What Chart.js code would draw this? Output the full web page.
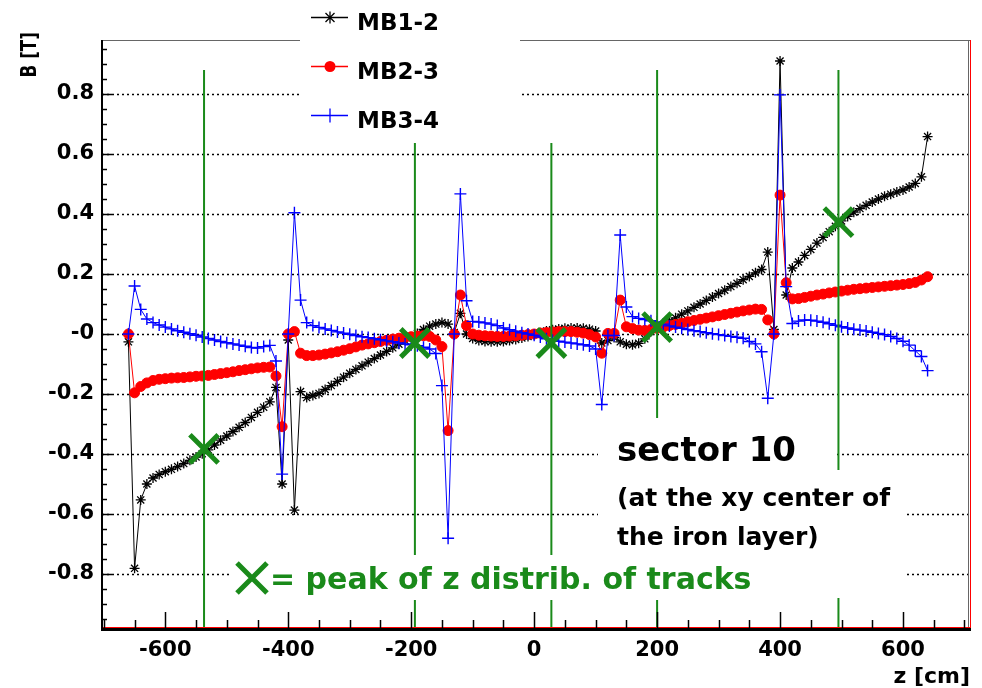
<!DOCTYPE html>
<html>
<head>
<meta charset="utf-8">
<script src="https://cdn.jsdelivr.net/npm/chart.js@4.4.1/dist/chart.umd.min.js"></script>
<style>
html, body { margin: 0; padding: 0; background: #fff; }
#wrap { width: 982px; height: 688px; }
</style>
</head>
<body>
<div id="wrap"><canvas id="myChart" width="982" height="688"></canvas></div>
<script>
// z positions [cm]
let zPos = [-660,-650,-640,-630,-620,-610,-600,-590,-580,-570,-560,-550,-540,-530,-520,-510,-500,-490,-480,-470,
  -460,-450,-440,-430,-420,-410,-400,-390,-380,-370,-360,-350,-340,-330,-320,-310,-300,-290,-280,-270,
  -260,-250,-240,-230,-220,-210,-200,-190,-180,-170,-160,-150,-140,-130,-120,-110,-100,-90,-80,-70,
  -60,-50,-40,-30,-20,-10,0,10,20,30,40,50,60,70,80,90,100,110,120,130,
  140,150,160,170,180,190,200,210,220,230,240,250,260,270,280,290,300,310,320,330,
  340,350,360,370,380,390,400,410,420,430,440,450,460,470,480,490,500,510,520,530,
  540,550,560,570,580,590,600,610,620,630,640];

// B [T]
let mb12 = [-0.026,-0.781,-0.553,-0.500,-0.480,-0.468,-0.459,-0.451,-0.442,-0.432,-0.421,-0.410,-0.399,-0.386,-0.370,-0.354,-0.340,-0.325,-0.311,-0.295,
  -0.278,-0.261,-0.244,-0.226,-0.178,-0.500,-0.020,-0.587,-0.192,-0.212,-0.205,-0.198,-0.185,-0.172,-0.158,-0.144,-0.131,-0.118,-0.106,-0.094,
  -0.082,-0.070,-0.058,-0.046,-0.034,-0.022,-0.010,0.002,0.015,0.026,0.033,0.038,0.033,0.005,0.069,0.000,-0.015,-0.022,-0.025,-0.026,
  -0.026,-0.025,-0.022,-0.018,-0.013,-0.008,-0.002,0.004,0.010,0.014,0.017,0.019,0.020,0.020,0.019,0.016,0.010,-0.030,-0.022,-0.012,
  -0.026,-0.034,-0.036,-0.031,-0.016,0.008,0.020,0.031,0.043,0.054,0.066,0.077,0.089,0.100,0.112,0.123,0.135,0.146,0.158,0.169,
  0.181,0.192,0.204,0.215,0.273,0.015,0.910,0.130,0.220,0.240,0.262,0.282,0.303,0.322,0.341,0.359,0.377,0.392,0.406,0.418,
  0.429,0.440,0.450,0.459,0.466,0.473,0.480,0.490,0.502,0.524,0.658];

let mb23 = [0.000,-0.196,-0.175,-0.163,-0.155,-0.151,-0.149,-0.147,-0.146,-0.145,-0.143,-0.141,-0.140,-0.138,-0.135,-0.132,-0.129,-0.126,-0.122,-0.119,
  -0.116,-0.113,-0.111,-0.110,-0.140,-0.309,0.000,0.008,-0.064,-0.072,-0.072,-0.070,-0.067,-0.063,-0.059,-0.054,-0.049,-0.043,-0.037,-0.033,
  -0.029,-0.025,-0.021,-0.017,-0.014,-0.011,-0.009,-0.007,-0.006,-0.008,-0.020,-0.042,-0.322,0.000,0.130,0.028,0.000,-0.004,-0.006,-0.007,
  -0.008,-0.008,-0.007,-0.006,-0.004,-0.002,0.000,0.003,0.005,0.007,0.008,0.008,0.008,0.006,0.003,-0.002,-0.010,-0.064,0.002,0.002,
  0.113,0.024,0.018,0.013,0.012,0.015,0.019,0.023,0.028,0.032,0.036,0.041,0.045,0.049,0.053,0.057,0.061,0.065,0.069,0.073,
  0.077,0.080,0.083,0.082,0.047,0.000,0.463,0.171,0.117,0.118,0.122,0.126,0.130,0.133,0.137,0.140,0.143,0.146,0.149,0.151,
  0.153,0.155,0.157,0.159,0.161,0.163,0.165,0.168,0.172,0.180,0.191];

let mb34 = [0.000,0.160,0.082,0.050,0.038,0.030,0.023,0.017,0.011,0.006,0.001,-0.004,-0.010,-0.015,-0.020,-0.025,-0.029,-0.033,-0.037,-0.041,
  -0.045,-0.047,-0.042,-0.038,-0.090,-0.467,0.000,0.404,0.113,0.038,0.028,0.022,0.017,0.012,0.007,0.003,-0.001,-0.005,-0.009,-0.012,
  -0.016,-0.019,-0.023,-0.026,-0.030,-0.033,-0.036,-0.039,-0.044,-0.050,-0.065,-0.172,-0.681,0.000,0.467,0.111,0.042,0.040,0.037,0.033,
  0.028,0.020,0.014,0.009,0.004,0.000,-0.004,-0.010,-0.016,-0.021,-0.024,-0.027,-0.030,-0.033,-0.036,-0.040,-0.050,-0.235,-0.005,-0.005,
  0.330,0.090,0.058,0.052,0.048,0.044,0.040,0.033,0.027,0.023,0.019,0.015,0.011,0.008,0.004,0.001,-0.002,-0.005,-0.008,-0.011,
  -0.014,-0.025,-0.033,-0.059,-0.214,0.000,0.797,0.158,0.035,0.043,0.047,0.046,0.043,0.039,0.034,0.029,0.024,0.020,0.016,0.013,
  0.010,0.006,0.002,-0.002,-0.008,-0.015,-0.024,-0.037,-0.056,-0.075,-0.122];

// peaks of z distribution of tracks
let peakZ = [-537, -194, 28, 200, 495];
let peakB = [-0.383, -0.03, -0.03, 0.023, 0.373];
let lineTop = [0.88, 0.637, 0.637, 0.88, 0.88];

let xTicks = [-600, -400, -200, 0, 200, 400, 600];
let yTicks = [-0.8, -0.6, -0.4, -0.2, 0, 0.2, 0.4, 0.6, 0.8];

let green = "#1a8a1a";
let font = "DejaVu Sans";

function pts(ys) {
  return zPos.map((z, i) => ({x: z, y: ys[i]}));
}

let datasets = [];
datasets.push({
  data: peakZ.map((z, i) => ({x: z, y: peakB[i]})),
  showLine: false, pointStyle: 'crossRot', pointRadius: 20,
  pointBorderColor: green, pointBorderWidth: 5, order: 0
});
for (let i = 0; i < peakZ.length; i++) {
  datasets.push({
    data: [{x: peakZ[i], y: lineTop[i]}, {x: peakZ[i], y: -0.98}],
    borderColor: green, borderWidth: 2, pointRadius: 0, order: 1
  });
}
datasets.push({
  label: 'MB3-4', data: pts(mb34), borderColor: '#0000ff', borderWidth: 1,
  pointStyle: 'cross', pointRadius: 6, pointBorderColor: '#0000ff', pointBorderWidth: 1.4, order: 2
});
datasets.push({
  label: 'MB2-3', data: pts(mb23), borderColor: '#ff0000', borderWidth: 1,
  pointStyle: 'circle', pointRadius: 5, pointBackgroundColor: '#ff0000',
  pointBorderColor: '#ff0000', pointBorderWidth: 1, order: 3
});
datasets.push({
  label: 'MB1-2', data: pts(mb12), borderColor: '#000000', borderWidth: 1,
  pointStyle: 'star', pointRadius: 5, pointBorderColor: '#000000', pointBorderWidth: 1.3, order: 4
});

function whiteBox(ctx, x0, y0, x1, y1) {
  ctx.fillStyle = '#fff';
  ctx.fillRect(x0, y0, x1 - x0, y1 - y0);
}

let rootPlugin = {
  id: 'rootFrame',
  beforeDatasetsDraw(chart) {
    let ctx = chart.ctx, a = chart.chartArea, ys = chart.scales.y;
    ctx.save();
    ctx.strokeStyle = '#000';
    ctx.lineWidth = 1.5;
    ctx.setLineDash([2, 3]);
    yTicks.forEach(v => {
      let py = Math.round(ys.getPixelForValue(v)) + 0.5;
      ctx.beginPath(); ctx.moveTo(a.left, py); ctx.lineTo(a.right, py); ctx.stroke();
    });
    ctx.restore();
  },
  afterDatasetsDraw(chart) {
    let ctx = chart.ctx, a = chart.chartArea, xs = chart.scales.x, ys = chart.scales.y;
    ctx.save();
    // frame
    ctx.lineWidth = 1;
    ctx.strokeStyle = '#666';
    ctx.beginPath(); ctx.moveTo(a.left, a.top + 0.5); ctx.lineTo(a.right, a.top + 0.5); ctx.stroke();
    ctx.beginPath(); ctx.moveTo(a.right - 1.5, a.top); ctx.lineTo(a.right - 1.5, a.bottom); ctx.stroke();
    ctx.strokeStyle = '#ff0000';
    ctx.beginPath(); ctx.moveTo(a.right + 0.5, a.top); ctx.lineTo(a.right + 0.5, a.bottom); ctx.stroke();
    ctx.beginPath(); ctx.moveTo(a.left, a.bottom - 0.5); ctx.lineTo(a.right, a.bottom - 0.5); ctx.stroke();
    ctx.strokeStyle = '#000';
    ctx.lineWidth = 3;
    ctx.beginPath(); ctx.moveTo(a.left - 1, a.bottom + 1.5); ctx.lineTo(a.right + 1, a.bottom + 1.5); ctx.stroke();
    ctx.lineWidth = 2;
    ctx.beginPath(); ctx.moveTo(a.left, a.top); ctx.lineTo(a.left, a.bottom + 1); ctx.stroke();
    // ticks
    ctx.lineWidth = 1.5;
    for (let i = -19; i <= 19; i++) {
      let py = Math.round(ys.getPixelForValue(i * 0.05)) + 0.5;
      let len = (i % 4 === 0) ? 10 : 5;
      ctx.beginPath(); ctx.moveTo(a.left, py); ctx.lineTo(a.left + len, py); ctx.stroke();
    }
    for (let z = -700; z <= 700; z += 50) {
      let px = Math.round(xs.getPixelForValue(z)) + 0.5;
      let len = (z % 200 === 0) ? 16 : 8;
      ctx.beginPath(); ctx.moveTo(px, a.bottom); ctx.lineTo(px, a.bottom - len); ctx.stroke();
    }
    // boxes over the pad
    whiteBox(ctx, 300, 0, 520, 136);
    whiteBox(ctx, 598, 418, 835, 470);
    whiteBox(ctx, 598, 470, 905, 598);
    whiteBox(ctx, 230, 555, 775, 600);

    // legend
    let leg = [
      {t: 'MB1-2', c: '#000', y: 17, m: 'star'},
      {t: 'MB2-3', c: '#ff0000', y: 66, m: 'circle'},
      {t: 'MB3-4', c: '#0000ff', y: 115, m: 'cross'}
    ];
    leg.forEach(e => {
      ctx.strokeStyle = e.c; ctx.fillStyle = e.c; ctx.lineWidth = 1.3;
      ctx.beginPath(); ctx.moveTo(311, e.y + 0.5); ctx.lineTo(348, e.y + 0.5); ctx.stroke();
      let cx = 330, cy = e.y + 0.5;
      if (e.m === 'circle') {
        ctx.beginPath(); ctx.arc(cx, cy, 5.5, 0, Math.PI * 2); ctx.fill();
      } else if (e.m === 'cross') {
        ctx.beginPath(); ctx.moveTo(cx, cy - 7); ctx.lineTo(cx, cy + 7); ctx.stroke();
      } else {
        ctx.beginPath();
        ctx.moveTo(cx, cy - 6); ctx.lineTo(cx, cy + 6);
        ctx.moveTo(cx - 4.5, cy - 4.5); ctx.lineTo(cx + 4.5, cy + 4.5);
        ctx.moveTo(cx - 4.5, cy + 4.5); ctx.lineTo(cx + 4.5, cy - 4.5);
        ctx.stroke();
      }
      ctx.fillStyle = '#000';
      ctx.font = 'bold 23px "' + font + '"';
      ctx.textAlign = 'left'; ctx.textBaseline = 'alphabetic';
      ctx.fillText(e.t, 357, e.y + 13);
    });

    // sector text
    ctx.fillStyle = '#000';
    ctx.font = 'bold 34px "' + font + '"';
    ctx.fillText('sector 10', 617, 461);
    ctx.font = 'bold 25px "' + font + '"';
    ctx.fillText('(at the xy center of', 617, 506);
    ctx.fillText('the iron layer)', 617, 545);

    // peak text
    ctx.strokeStyle = green; ctx.lineWidth = 5; ctx.lineCap = 'butt';
    ctx.beginPath();
    ctx.moveTo(237, 563); ctx.lineTo(267, 593);
    ctx.moveTo(237, 593); ctx.lineTo(267, 563);
    ctx.stroke();
    ctx.fillStyle = green;
    ctx.font = 'bold 30px "' + font + '"';
    ctx.fillText('= peak of z distrib. of tracks', 270, 589);
    ctx.restore();
  },
  afterDraw(chart) {
    let ctx = chart.ctx;
    ctx.save();
    ctx.fillStyle = '#000';
    ctx.font = 'bold 22px "' + font + '"';
    ctx.textAlign = 'right'; ctx.textBaseline = 'alphabetic';
    ctx.fillText('z [cm]', 970, 683);
    ctx.translate(36, 32);
    ctx.rotate(-Math.PI / 2);
    ctx.scale(0.8, 1);
    ctx.font = 'bold 21px "' + font + '"';
    ctx.fillText('B [T]', 0, 0);
    ctx.restore();
  }
};

new Chart(document.getElementById("myChart"), {
  type: 'line',
  data: { datasets: datasets },
  options: {
    responsive: false,
    animation: false,
    events: [],
    layout: { autoPadding: false, padding: { left: 0, right: 12, top: 40, bottom: 0 } },
    plugins: { legend: { display: false }, tooltip: { enabled: false } },
    scales: {
      x: {
        type: 'linear', min: -703, max: 709,
        grid: { display: false, drawTicks: false },
        border: { display: false },
        afterFit: s => { s.height = 60; },
        afterBuildTicks: s => { s.ticks = xTicks.map(v => ({value: v})); },
        ticks: {
          color: '#000', padding: 10, maxRotation: 0, autoSkip: false,
          font: { family: font, weight: 'bold', size: 21 }
        }
      },
      y: {
        type: 'linear', min: -0.98, max: 0.98,
        grid: { display: false, drawTicks: false },
        border: { display: false },
        afterFit: s => { s.width = 102; },
        afterBuildTicks: s => { s.ticks = yTicks.map(v => ({value: v})); },
        ticks: {
          color: '#000', padding: 8, autoSkip: false,
          font: { family: font, weight: 'bold', size: 21 },
          callback: v => (Math.abs(v) < 1e-9 ? '-0' : v.toFixed(1))
        }
      }
    }
  },
  plugins: [rootPlugin]
});
</script>
</body>
</html>
